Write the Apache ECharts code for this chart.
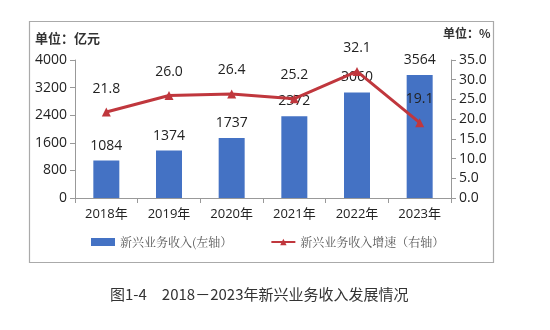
<!DOCTYPE html>
<html><head><meta charset="utf-8">
<script src="https://cdn.jsdelivr.net/npm/echarts@6/dist/echarts.min.js"></script>
<style>html,body{margin:0;padding:0;background:#fff}#c{width:550px;height:330px}</style>
</head><body><div id="c"></div>
<script>
const categories = ['2018年','2019年','2020年','2021年','2022年','2023年'];
const revenue = [1084, 1374, 1737, 2372, 3060, 3564];
const growth = [21.8, 26.0, 26.4, 25.2, 32.1, 19.1];
const barName = '新兴业务收入(左轴）';
const lineName = '新兴业务收入增速（右轴）';
const caption = '图1-4　2018－2023年新兴业务收入发展情况';

const font = '"Open Sans","Noto Sans CJK SC",sans-serif';
const chart = echarts.init(document.getElementById('c'));
chart.setOption({
  animation: false,
  textStyle: {fontFamily: font},
  graphic: [
    {type: 'rect', shape: {x: 29.5, y: 21.5, width: 464, height: 241},
     style: {fill: 'none', stroke: '#aaa', lineWidth: 1.2}, z: -1},
    {type: 'text', left: 35, top: 32, style: {text: '单位：亿元', font: 'bold 13px "Noto Sans CJK SC"', fill: '#333'}},
    {type: 'text', left: 443, top: 27, style: {text: '单位：%', font: 'bold 12px "Noto Sans CJK SC"', fill: '#333'}},
    {type: 'text', left: 110, top: 287, style: {text: caption, font: '15px "Noto Sans CJK SC"', fill: '#333'}}
  ],
  grid: {left: 75, right: 99, top: 60, bottom: 132},
  legend: {
    left: 86, top: 231, itemGap: 38, itemWidth: 24, itemHeight: 8,
    textStyle: {fontFamily: '"Noto Serif CJK SC","Noto Sans CJK SC",serif', fontSize: 12, color: '#555'},
    data: [{name: barName, icon: 'rect'}, {name: lineName}]
  },
  xAxis: {
    type: 'category', data: categories,
    axisLine: {lineStyle: {color: '#999'}},
    axisTick: {show: true, alignWithLabel: false, lineStyle: {color: '#999'}},
    axisLabel: {color: '#222', fontSize: 13, margin: 10}
  },
  yAxis: [
    {type: 'value', min: 0, max: 4000, interval: 800, splitLine: {show: false},
     axisLine: {show: true, lineStyle: {color: '#999'}},
     axisTick: {show: true, lineStyle: {color: '#999'}},
     axisLabel: {color: '#222', fontSize: 14, formatter: v => String(v)}},
    {type: 'value', min: 0, max: 35, interval: 5, splitLine: {show: false}, position: 'right',
     axisLine: {show: true, lineStyle: {color: '#999'}},
     axisTick: {show: true, lineStyle: {color: '#999'}},
     axisLabel: {color: '#222', fontSize: 14, formatter: v => v.toFixed(1)}}
  ],
  series: [
    {name: barName, type: 'bar', data: revenue, barWidth: 26, yAxisIndex: 0,
     itemStyle: {color: '#4472C4'},
     label: {show: true, position: 'top', color: '#222', fontSize: 14, distance: 8}},
    {name: lineName, type: 'line', data: growth, yAxisIndex: 1, z: 3,
     symbol: 'triangle', symbolSize: 9,
     lineStyle: {color: '#C0373D', width: 3}, itemStyle: {color: '#C0373D'},
     label: {show: true, position: 'top', color: '#222', fontSize: 14, distance: 12,
       formatter: p => p.value.toFixed(1)}}
  ]
});
</script></body></html>
